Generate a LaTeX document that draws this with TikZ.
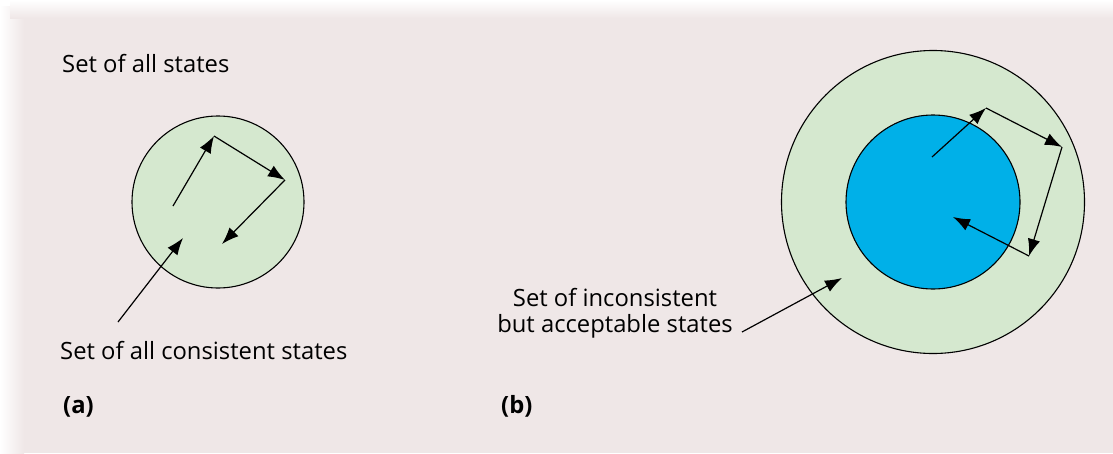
\documentclass[tikz,border=0pt]{standalone}
\usepackage{fontspec}
\setmainfont{Open Sans}
\usetikzlibrary{arrows.meta}
\definecolor{bgpink}{RGB}{239,231,231}
\definecolor{setgreen}{RGB}{213,232,207}
\definecolor{setblue}{RGB}{0,176,232}
\tikzset{
  setcirc/.style={circle, draw=black, line width=1.1pt, inner sep=0pt},
  arr/.style={line width=1.2pt, -{Latex[length=17pt,width=12.5pt]}},
  lbl/.style={font=\fontsize{23.8}{26}\selectfont, inner sep=0pt, text=black},
  tag/.style={font=\fontsize{23.8}{26}\selectfont\bfseries, inner sep=0pt, text=black}
}
\begin{document}
\begin{tikzpicture}[x=1pt,y=-1pt]
\useasboundingbox (0,0) rectangle (1113,453);
\fill[white] (0,0) rectangle (1113,453);
\fill[bgpink] (10,6) rectangle (1113,453);
\shade[left color=white, right color=bgpink] (0,6) rectangle (24,453);
\shade[top color=white, bottom color=bgpink] (10,0) rectangle (1113,18);
% (a)
\node[setcirc, fill=setgreen, minimum size=172pt] (ca) at (218,202) {};
\coordinate (a1) at (173,206);
\coordinate (a2) at (214,136);
\coordinate (a3) at (285,180);
\coordinate (a4) at (222,244);
\draw[arr] (a1) -- (a2);
\draw[arr] (a2) -- (a3);
\draw[arr] (a3) -- (a4);
\node[lbl, anchor=base west] (lall) at (62,72) {Set of all states};
\node[lbl, anchor=base west] (lcons) at (60,359) {Set of all consistent states};
\coordinate (pa) at (118,322);
\coordinate (pat) at (183,238);
\draw[arr] (pa) -- (pat);
\node[tag, anchor=base west] (ta) at (63,413) {(a)};
% (b)
\node[setcirc, fill=setgreen, minimum size=303pt] (cbo) at (933,202) {};
\node[setcirc, fill=setblue, minimum size=174pt] (cbi) at (933,202) {};
\coordinate (b1) at (932,157);
\coordinate (b2) at (986,108);
\coordinate (b3) at (1062,147);
\coordinate (b4) at (1029,256);
\coordinate (b5) at (953,217);
\draw[arr] (b1) -- (b2);
\draw[arr] (b2) -- (b3);
\draw[arr] (b3) -- (b4);
\draw[arr] (b4) -- (b5);
\node[lbl, anchor=base, align=center] (lincons) at (615,332) {Set of inconsistent\\but acceptable states};
\coordinate (pb) at (742,332);
\coordinate (pbt) at (842,278);
\draw[arr] (pb) -- (pbt);
\node[tag, anchor=base west] (tb) at (501,413) {(b)};
\end{tikzpicture}
\end{document}
